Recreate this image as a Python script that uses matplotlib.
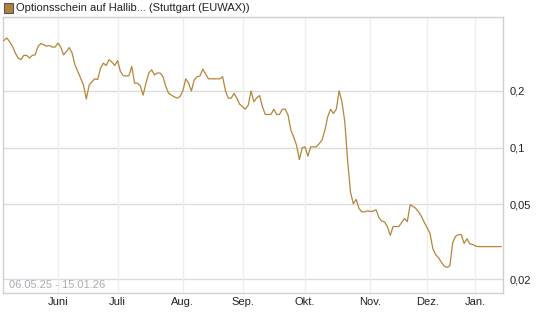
import matplotlib
matplotlib.use("Agg")
import matplotlib.pyplot as plt
from matplotlib.patches import Rectangle

plt.rcParams['font.family'] = ['Liberation Sans', 'DejaVu Sans']

title = "Optionsschein auf Hallib... (Stuttgart (EUWAX))"
date_range = "06.05.25 - 15.01.26"

# one value per trading day, 06.05.25 .. 15.01.26
prices = [
    0.371, 0.382, 0.366, 0.345, 0.318, 0.299, 0.293, 0.309, 0.309, 0.299,
    0.309, 0.311, 0.345, 0.357, 0.352, 0.346, 0.349, 0.342, 0.342, 0.359,
    0.342, 0.311, 0.324, 0.340, 0.318, 0.275, 0.254, 0.234, 0.215, 0.181,
    0.215, 0.224, 0.232, 0.230, 0.264, 0.281, 0.273, 0.293, 0.285, 0.273,
    0.290, 0.254, 0.241, 0.240, 0.241, 0.270, 0.220, 0.220, 0.213, 0.190,
    0.220, 0.249, 0.259, 0.243, 0.249, 0.249, 0.238, 0.211, 0.194, 0.190,
    0.186, 0.183, 0.187, 0.200, 0.232, 0.220, 0.200, 0.229, 0.238, 0.240,
    0.261, 0.246, 0.232, 0.232, 0.232, 0.232, 0.232, 0.238, 0.200, 0.183,
    0.183, 0.194, 0.183, 0.170, 0.165, 0.160, 0.168, 0.200, 0.175, 0.184,
    0.189, 0.165, 0.150, 0.150, 0.150, 0.160, 0.150, 0.150, 0.160, 0.160,
    0.149, 0.124, 0.114, 0.103, 0.0864, 0.0997, 0.101, 0.090, 0.101, 0.101,
    0.101, 0.105, 0.110, 0.124, 0.146, 0.160, 0.152, 0.160, 0.200, 0.175,
    0.137, 0.085, 0.058, 0.0503, 0.0531, 0.0475, 0.0456, 0.0455, 0.0462, 0.0458,
    0.0460, 0.0468, 0.0425, 0.0408, 0.0403, 0.0380, 0.0342, 0.0381, 0.0381, 0.0381,
    0.0400, 0.0420, 0.0405, 0.0497, 0.0488, 0.0475, 0.0455, 0.0430, 0.0400, 0.0375,
    0.0350, 0.0290, 0.0270, 0.0260, 0.0246, 0.0235, 0.0231, 0.0236, 0.0314, 0.0338,
    0.0345, 0.0345, 0.0310, 0.0328, 0.0308, 0.0306, 0.0300, 0.0298, 0.0298, 0.0298,
    0.0298, 0.0298, 0.0298, 0.0298, 0.0298, 0.0298,
]

month_labels = ["Juni", "Juli", "Aug.", "Sep.", "Okt.", "Nov.", "Dez.", "Jan."]
month_index = [19, 40, 63, 84, 106, 129, 149, 166]  # trading-day index of month start

y_ticks = [0.02, 0.05, 0.1, 0.2]
y_labels = ["0,02", "0,05", "0,1", "0,2"]

line_color = "#b5853a"

fig = plt.figure(figsize=(5.45, 3.27), dpi=100)
ax = fig.add_axes([0.0046, 0.104, 0.9184, 0.8455])

x = list(range(len(prices)))
ax.plot(x, prices, color=line_color, linewidth=0.9, zorder=3)

ax.set_yscale('log')
ax.set_ylim(0.0169, 0.497)
ax.set_xlim(-0.5, 175.7)

ax.set_yticks(y_ticks)
ax.set_yticklabels(y_labels)
ax.yaxis.set_minor_locator(matplotlib.ticker.NullLocator())
ax.yaxis.tick_right()
ax.set_xticks(month_index)
ax.set_xticklabels(month_labels)

ax.tick_params(axis='both', length=0, labelsize=8, colors='#222222')
ax.tick_params(axis='y', pad=5)
ax.tick_params(axis='x', pad=3)

for yv in y_ticks:
    ax.axhline(yv, color='#dcdcdc', linewidth=1.0, zorder=1)
for xv in month_index:
    ax.axvline(xv, color='#eeeeee', linewidth=1.0, zorder=1)

for s in ax.spines.values():
    s.set_color('#d0d0d0')
    s.set_linewidth(1.0)

ax.text(0.012, 0.012, date_range, transform=ax.transAxes, fontsize=8,
        color='#a8acb4', ha='left', va='bottom')

# header legend
fig.patches.append(Rectangle((3.5 / 545, 1 - 12.5 / 327), 9 / 545, 9 / 327,
                             transform=fig.transFigure, facecolor='#b08040',
                             edgecolor='#555555', linewidth=0.8))
fig.text(16 / 545, 1 - 8 / 327, title, fontsize=8, color='#222222',
         ha='left', va='center')

fig.savefig("out.png", dpi=100)
